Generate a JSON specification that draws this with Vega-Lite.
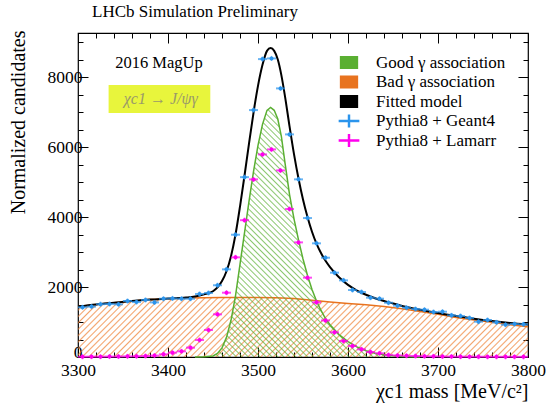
{
 "$schema": "https://vega.github.io/schema/vega-lite/v6.json",
 "width": 450, "height": 324,
 "autosize": "none",
 "padding": {"left": 78, "top": 33, "right": 20, "bottom": 49},
 "background": "white",
 "title": {"text": "LHCb Simulation Preliminary", "anchor": "start", "frame": "group", "dx": 14, "offset": 9, "font": "Liberation Serif, Times New Roman, serif", "fontSize": 17, "fontWeight": "normal", "color": "black"},
 "datasets": {
  "bad": [{"mass":3300,"value":1440},{"mass":3320,"value":1500},{"mass":3340,"value":1550},{"mass":3360,"value":1600},{"mass":3380,"value":1640},{"mass":3400,"value":1665},{"mass":3420,"value":1685},{"mass":3440,"value":1695},{"mass":3460,"value":1700},{"mass":3480,"value":1700},{"mass":3500,"value":1698},{"mass":3520,"value":1690},{"mass":3540,"value":1670},{"mass":3560,"value":1620},{"mass":3580,"value":1570},{"mass":3600,"value":1530},{"mass":3620,"value":1490},{"mass":3640,"value":1440},{"mass":3660,"value":1380},{"mass":3680,"value":1300},{"mass":3700,"value":1220},{"mass":3720,"value":1130},{"mass":3740,"value":1060},{"mass":3760,"value":990},{"mass":3780,"value":925},{"mass":3800,"value":867}],
  "good": [{"mass":3430,"value":0},{"mass":3440,"value":5},{"mass":3450,"value":30},{"mass":3455,"value":100},{"mass":3460,"value":260},{"mass":3465,"value":560},{"mass":3470,"value":1050},{"mass":3475,"value":1750},{"mass":3480,"value":2650},{"mass":3485,"value":3550},{"mass":3490,"value":4450},{"mass":3495,"value":5300},{"mass":3500,"value":6050},{"mass":3505,"value":6650},{"mass":3510,"value":7050},{"mass":3514,"value":7130},{"mass":3518,"value":7050},{"mass":3522,"value":6800},{"mass":3526,"value":6300},{"mass":3530,"value":5550},{"mass":3535,"value":4650},{"mass":3540,"value":3950},{"mass":3545,"value":3350},{"mass":3550,"value":2800},{"mass":3555,"value":2330},{"mass":3560,"value":1930},{"mass":3565,"value":1600},{"mass":3570,"value":1330},{"mass":3575,"value":1100},{"mass":3580,"value":920},{"mass":3590,"value":640},{"mass":3600,"value":440},{"mass":3610,"value":290},{"mass":3620,"value":180},{"mass":3630,"value":110},{"mass":3640,"value":65},{"mass":3650,"value":35},{"mass":3660,"value":15},{"mass":3670,"value":5},{"mass":3680,"value":0}],
  "model": [{"mass":3300,"value":1440},{"mass":3320,"value":1500},{"mass":3340,"value":1550},{"mass":3360,"value":1600},{"mass":3380,"value":1640},{"mass":3400,"value":1670},{"mass":3420,"value":1700},{"mass":3430,"value":1730},{"mass":3440,"value":1790},{"mass":3450,"value":1880},{"mass":3455,"value":1990},{"mass":3460,"value":2170},{"mass":3465,"value":2450},{"mass":3470,"value":2880},{"mass":3475,"value":3500},{"mass":3480,"value":4300},{"mass":3485,"value":5180},{"mass":3490,"value":6100},{"mass":3495,"value":6980},{"mass":3500,"value":7750},{"mass":3505,"value":8350},{"mass":3510,"value":8750},{"mass":3514,"value":8830},{"mass":3518,"value":8750},{"mass":3522,"value":8500},{"mass":3526,"value":8050},{"mass":3530,"value":7450},{"mass":3535,"value":6600},{"mass":3540,"value":5800},{"mass":3545,"value":5100},{"mass":3550,"value":4500},{"mass":3555,"value":4000},{"mass":3560,"value":3580},{"mass":3565,"value":3240},{"mass":3570,"value":2970},{"mass":3575,"value":2750},{"mass":3580,"value":2570},{"mass":3590,"value":2280},{"mass":3600,"value":2060},{"mass":3610,"value":1900},{"mass":3620,"value":1780},{"mass":3630,"value":1680},{"mass":3640,"value":1600},{"mass":3650,"value":1530},{"mass":3660,"value":1460},{"mass":3670,"value":1400},{"mass":3680,"value":1350},{"mass":3690,"value":1300},{"mass":3700,"value":1255},{"mass":3720,"value":1170},{"mass":3740,"value":1095},{"mass":3760,"value":1030},{"mass":3780,"value":975},{"mass":3800,"value":930}],
  "geant": [{"mass":3305,"value":1420},{"mass":3315,"value":1440},{"mass":3325,"value":1510},{"mass":3335,"value":1515},{"mass":3345,"value":1505},{"mass":3355,"value":1600},{"mass":3365,"value":1570},{"mass":3375,"value":1630},{"mass":3385,"value":1560},{"mass":3395,"value":1665},{"mass":3405,"value":1675},{"mass":3415,"value":1665},{"mass":3425,"value":1665},{"mass":3435,"value":1800},{"mass":3445,"value":1830},{"mass":3455,"value":2050},{"mass":3465,"value":2505},{"mass":3475,"value":3495},{"mass":3485,"value":5140},{"mass":3495,"value":7057},{"mass":3505,"value":8514},{"mass":3515,"value":8534},{"mass":3525,"value":7677},{"mass":3535,"value":6362},{"mass":3545,"value":5077},{"mass":3555,"value":3971},{"mass":3565,"value":3248},{"mass":3575,"value":2838},{"mass":3585,"value":2410},{"mass":3595,"value":2190},{"mass":3605,"value":1914},{"mass":3615,"value":1857},{"mass":3625,"value":1695},{"mass":3635,"value":1667},{"mass":3645,"value":1552},{"mass":3655,"value":1467},{"mass":3665,"value":1410},{"mass":3675,"value":1371},{"mass":3685,"value":1352},{"mass":3695,"value":1286},{"mass":3705,"value":1295},{"mass":3715,"value":1190},{"mass":3725,"value":1171},{"mass":3735,"value":1114},{"mass":3745,"value":1010},{"mass":3755,"value":1057},{"mass":3765,"value":990},{"mass":3775,"value":924},{"mass":3785,"value":943},{"mass":3795,"value":933}],
  "lamarr": [{"mass":3305,"value":8},{"mass":3315,"value":10},{"mass":3325,"value":10},{"mass":3335,"value":12},{"mass":3345,"value":15},{"mass":3355,"value":18},{"mass":3365,"value":22},{"mass":3375,"value":28},{"mass":3385,"value":40},{"mass":3395,"value":76},{"mass":3405,"value":124},{"mass":3415,"value":162},{"mass":3425,"value":267},{"mass":3435,"value":486},{"mass":3445,"value":771},{"mass":3455,"value":1219},{"mass":3465,"value":1838},{"mass":3475,"value":2848},{"mass":3485,"value":3910},{"mass":3495,"value":5076},{"mass":3505,"value":5790},{"mass":3515,"value":5933},{"mass":3525,"value":5333},{"mass":3535,"value":4229},{"mass":3545,"value":3276},{"mass":3555,"value":2267},{"mass":3565,"value":1562},{"mass":3575,"value":1045},{"mass":3585,"value":705},{"mass":3595,"value":457},{"mass":3605,"value":314},{"mass":3615,"value":219},{"mass":3625,"value":143},{"mass":3635,"value":105},{"mass":3645,"value":60},{"mass":3655,"value":45},{"mass":3665,"value":35},{"mass":3675,"value":28},{"mass":3685,"value":22},{"mass":3695,"value":18},{"mass":3705,"value":15},{"mass":3715,"value":12},{"mass":3725,"value":10},{"mass":3735,"value":9},{"mass":3745,"value":8},{"mass":3755,"value":7},{"mass":3765,"value":6},{"mass":3775,"value":6},{"mass":3785,"value":5},{"mass":3795,"value":5}]
 },
 "resolve": {"scale": {"x": "shared", "y": "shared", "color": "shared"}, "axis": {"x": "independent", "y": "independent"}},
 "layer": [
  {"data": {"name": "bad"},
   "mark": {"type": "area", "line": {"color": "#e8731f", "strokeWidth": 1.5},
    "fill": {"gradient": "linear", "x1": 0, "y1": 0, "x2": 1.1127, "y2": 0.1471, "stops": [
{"offset":0,"color":"#ee7d2e"},{"offset":0.003,"color":"rgba(238,125,46,0)"},{"offset":0.0095,"color":"rgba(238,125,46,0)"},{"offset":0.0125,"color":"#ee7d2e"},{"offset":0.0155,"color":"rgba(238,125,46,0)"},{"offset":0.022,"color":"rgba(238,125,46,0)"},
{"offset":0.025,"color":"#ee7d2e"},{"offset":0.028,"color":"rgba(238,125,46,0)"},{"offset":0.0345,"color":"rgba(238,125,46,0)"},{"offset":0.0375,"color":"#ee7d2e"},{"offset":0.0405,"color":"rgba(238,125,46,0)"},{"offset":0.047,"color":"rgba(238,125,46,0)"},
{"offset":0.05,"color":"#ee7d2e"},{"offset":0.053,"color":"rgba(238,125,46,0)"},{"offset":0.0595,"color":"rgba(238,125,46,0)"},{"offset":0.0625,"color":"#ee7d2e"},{"offset":0.0655,"color":"rgba(238,125,46,0)"},{"offset":0.072,"color":"rgba(238,125,46,0)"},
{"offset":0.075,"color":"#ee7d2e"},{"offset":0.078,"color":"rgba(238,125,46,0)"},{"offset":0.0845,"color":"rgba(238,125,46,0)"},{"offset":0.0875,"color":"#ee7d2e"},{"offset":0.0905,"color":"rgba(238,125,46,0)"},{"offset":0.097,"color":"rgba(238,125,46,0)"},
{"offset":0.1,"color":"#ee7d2e"},{"offset":0.103,"color":"rgba(238,125,46,0)"},{"offset":0.1095,"color":"rgba(238,125,46,0)"},{"offset":0.1125,"color":"#ee7d2e"},{"offset":0.1155,"color":"rgba(238,125,46,0)"},{"offset":0.122,"color":"rgba(238,125,46,0)"},
{"offset":0.125,"color":"#ee7d2e"},{"offset":0.128,"color":"rgba(238,125,46,0)"},{"offset":0.1345,"color":"rgba(238,125,46,0)"},{"offset":0.1375,"color":"#ee7d2e"},{"offset":0.1405,"color":"rgba(238,125,46,0)"},{"offset":0.147,"color":"rgba(238,125,46,0)"},
{"offset":0.15,"color":"#ee7d2e"},{"offset":0.153,"color":"rgba(238,125,46,0)"},{"offset":0.1595,"color":"rgba(238,125,46,0)"},{"offset":0.1625,"color":"#ee7d2e"},{"offset":0.1655,"color":"rgba(238,125,46,0)"},{"offset":0.172,"color":"rgba(238,125,46,0)"},
{"offset":0.175,"color":"#ee7d2e"},{"offset":0.178,"color":"rgba(238,125,46,0)"},{"offset":0.1845,"color":"rgba(238,125,46,0)"},{"offset":0.1875,"color":"#ee7d2e"},{"offset":0.1905,"color":"rgba(238,125,46,0)"},{"offset":0.197,"color":"rgba(238,125,46,0)"},
{"offset":0.2,"color":"#ee7d2e"},{"offset":0.203,"color":"rgba(238,125,46,0)"},{"offset":0.2095,"color":"rgba(238,125,46,0)"},{"offset":0.2125,"color":"#ee7d2e"},{"offset":0.2155,"color":"rgba(238,125,46,0)"},{"offset":0.222,"color":"rgba(238,125,46,0)"},
{"offset":0.225,"color":"#ee7d2e"},{"offset":0.228,"color":"rgba(238,125,46,0)"},{"offset":0.2345,"color":"rgba(238,125,46,0)"},{"offset":0.2375,"color":"#ee7d2e"},{"offset":0.2405,"color":"rgba(238,125,46,0)"},{"offset":0.247,"color":"rgba(238,125,46,0)"},
{"offset":0.25,"color":"#ee7d2e"},{"offset":0.253,"color":"rgba(238,125,46,0)"},{"offset":0.2595,"color":"rgba(238,125,46,0)"},{"offset":0.2625,"color":"#ee7d2e"},{"offset":0.2655,"color":"rgba(238,125,46,0)"},{"offset":0.272,"color":"rgba(238,125,46,0)"},
{"offset":0.275,"color":"#ee7d2e"},{"offset":0.278,"color":"rgba(238,125,46,0)"},{"offset":0.2845,"color":"rgba(238,125,46,0)"},{"offset":0.2875,"color":"#ee7d2e"},{"offset":0.2905,"color":"rgba(238,125,46,0)"},{"offset":0.297,"color":"rgba(238,125,46,0)"},
{"offset":0.3,"color":"#ee7d2e"},{"offset":0.303,"color":"rgba(238,125,46,0)"},{"offset":0.3095,"color":"rgba(238,125,46,0)"},{"offset":0.3125,"color":"#ee7d2e"},{"offset":0.3155,"color":"rgba(238,125,46,0)"},{"offset":0.322,"color":"rgba(238,125,46,0)"},
{"offset":0.325,"color":"#ee7d2e"},{"offset":0.328,"color":"rgba(238,125,46,0)"},{"offset":0.3345,"color":"rgba(238,125,46,0)"},{"offset":0.3375,"color":"#ee7d2e"},{"offset":0.3405,"color":"rgba(238,125,46,0)"},{"offset":0.347,"color":"rgba(238,125,46,0)"},
{"offset":0.35,"color":"#ee7d2e"},{"offset":0.353,"color":"rgba(238,125,46,0)"},{"offset":0.3595,"color":"rgba(238,125,46,0)"},{"offset":0.3625,"color":"#ee7d2e"},{"offset":0.3655,"color":"rgba(238,125,46,0)"},{"offset":0.372,"color":"rgba(238,125,46,0)"},
{"offset":0.375,"color":"#ee7d2e"},{"offset":0.378,"color":"rgba(238,125,46,0)"},{"offset":0.3845,"color":"rgba(238,125,46,0)"},{"offset":0.3875,"color":"#ee7d2e"},{"offset":0.3905,"color":"rgba(238,125,46,0)"},{"offset":0.397,"color":"rgba(238,125,46,0)"},
{"offset":0.4,"color":"#ee7d2e"},{"offset":0.403,"color":"rgba(238,125,46,0)"},{"offset":0.4095,"color":"rgba(238,125,46,0)"},{"offset":0.4125,"color":"#ee7d2e"},{"offset":0.4155,"color":"rgba(238,125,46,0)"},{"offset":0.422,"color":"rgba(238,125,46,0)"},
{"offset":0.425,"color":"#ee7d2e"},{"offset":0.428,"color":"rgba(238,125,46,0)"},{"offset":0.4345,"color":"rgba(238,125,46,0)"},{"offset":0.4375,"color":"#ee7d2e"},{"offset":0.4405,"color":"rgba(238,125,46,0)"},{"offset":0.447,"color":"rgba(238,125,46,0)"},
{"offset":0.45,"color":"#ee7d2e"},{"offset":0.453,"color":"rgba(238,125,46,0)"},{"offset":0.4595,"color":"rgba(238,125,46,0)"},{"offset":0.4625,"color":"#ee7d2e"},{"offset":0.4655,"color":"rgba(238,125,46,0)"},{"offset":0.472,"color":"rgba(238,125,46,0)"},
{"offset":0.475,"color":"#ee7d2e"},{"offset":0.478,"color":"rgba(238,125,46,0)"},{"offset":0.4845,"color":"rgba(238,125,46,0)"},{"offset":0.4875,"color":"#ee7d2e"},{"offset":0.4905,"color":"rgba(238,125,46,0)"},{"offset":0.497,"color":"rgba(238,125,46,0)"},
{"offset":0.5,"color":"#ee7d2e"},{"offset":0.503,"color":"rgba(238,125,46,0)"},{"offset":0.5095,"color":"rgba(238,125,46,0)"},{"offset":0.5125,"color":"#ee7d2e"},{"offset":0.5155,"color":"rgba(238,125,46,0)"},{"offset":0.522,"color":"rgba(238,125,46,0)"},
{"offset":0.525,"color":"#ee7d2e"},{"offset":0.528,"color":"rgba(238,125,46,0)"},{"offset":0.5345,"color":"rgba(238,125,46,0)"},{"offset":0.5375,"color":"#ee7d2e"},{"offset":0.5405,"color":"rgba(238,125,46,0)"},{"offset":0.547,"color":"rgba(238,125,46,0)"},
{"offset":0.55,"color":"#ee7d2e"},{"offset":0.553,"color":"rgba(238,125,46,0)"},{"offset":0.5595,"color":"rgba(238,125,46,0)"},{"offset":0.5625,"color":"#ee7d2e"},{"offset":0.5655,"color":"rgba(238,125,46,0)"},{"offset":0.572,"color":"rgba(238,125,46,0)"},
{"offset":0.575,"color":"#ee7d2e"},{"offset":0.578,"color":"rgba(238,125,46,0)"},{"offset":0.5845,"color":"rgba(238,125,46,0)"},{"offset":0.5875,"color":"#ee7d2e"},{"offset":0.5905,"color":"rgba(238,125,46,0)"},{"offset":0.597,"color":"rgba(238,125,46,0)"},
{"offset":0.6,"color":"#ee7d2e"},{"offset":0.603,"color":"rgba(238,125,46,0)"},{"offset":0.6095,"color":"rgba(238,125,46,0)"},{"offset":0.6125,"color":"#ee7d2e"},{"offset":0.6155,"color":"rgba(238,125,46,0)"},{"offset":0.622,"color":"rgba(238,125,46,0)"},
{"offset":0.625,"color":"#ee7d2e"},{"offset":0.628,"color":"rgba(238,125,46,0)"},{"offset":0.6345,"color":"rgba(238,125,46,0)"},{"offset":0.6375,"color":"#ee7d2e"},{"offset":0.6405,"color":"rgba(238,125,46,0)"},{"offset":0.647,"color":"rgba(238,125,46,0)"},
{"offset":0.65,"color":"#ee7d2e"},{"offset":0.653,"color":"rgba(238,125,46,0)"},{"offset":0.6595,"color":"rgba(238,125,46,0)"},{"offset":0.6625,"color":"#ee7d2e"},{"offset":0.6655,"color":"rgba(238,125,46,0)"},{"offset":0.672,"color":"rgba(238,125,46,0)"},
{"offset":0.675,"color":"#ee7d2e"},{"offset":0.678,"color":"rgba(238,125,46,0)"},{"offset":0.6845,"color":"rgba(238,125,46,0)"},{"offset":0.6875,"color":"#ee7d2e"},{"offset":0.6905,"color":"rgba(238,125,46,0)"},{"offset":0.697,"color":"rgba(238,125,46,0)"},
{"offset":0.7,"color":"#ee7d2e"},{"offset":0.703,"color":"rgba(238,125,46,0)"},{"offset":0.7095,"color":"rgba(238,125,46,0)"},{"offset":0.7125,"color":"#ee7d2e"},{"offset":0.7155,"color":"rgba(238,125,46,0)"},{"offset":0.722,"color":"rgba(238,125,46,0)"},
{"offset":0.725,"color":"#ee7d2e"},{"offset":0.728,"color":"rgba(238,125,46,0)"},{"offset":0.7345,"color":"rgba(238,125,46,0)"},{"offset":0.7375,"color":"#ee7d2e"},{"offset":0.7405,"color":"rgba(238,125,46,0)"},{"offset":0.747,"color":"rgba(238,125,46,0)"},
{"offset":0.75,"color":"#ee7d2e"},{"offset":0.753,"color":"rgba(238,125,46,0)"},{"offset":0.7595,"color":"rgba(238,125,46,0)"},{"offset":0.7625,"color":"#ee7d2e"},{"offset":0.7655,"color":"rgba(238,125,46,0)"},{"offset":0.772,"color":"rgba(238,125,46,0)"},
{"offset":0.775,"color":"#ee7d2e"},{"offset":0.778,"color":"rgba(238,125,46,0)"},{"offset":0.7845,"color":"rgba(238,125,46,0)"},{"offset":0.7875,"color":"#ee7d2e"},{"offset":0.7905,"color":"rgba(238,125,46,0)"},{"offset":0.797,"color":"rgba(238,125,46,0)"},
{"offset":0.8,"color":"#ee7d2e"},{"offset":0.803,"color":"rgba(238,125,46,0)"},{"offset":0.8095,"color":"rgba(238,125,46,0)"},{"offset":0.8125,"color":"#ee7d2e"},{"offset":0.8155,"color":"rgba(238,125,46,0)"},{"offset":0.822,"color":"rgba(238,125,46,0)"},
{"offset":0.825,"color":"#ee7d2e"},{"offset":0.828,"color":"rgba(238,125,46,0)"},{"offset":0.8345,"color":"rgba(238,125,46,0)"},{"offset":0.8375,"color":"#ee7d2e"},{"offset":0.8405,"color":"rgba(238,125,46,0)"},{"offset":0.847,"color":"rgba(238,125,46,0)"},
{"offset":0.85,"color":"#ee7d2e"},{"offset":0.853,"color":"rgba(238,125,46,0)"},{"offset":0.8595,"color":"rgba(238,125,46,0)"},{"offset":0.8625,"color":"#ee7d2e"},{"offset":0.8655,"color":"rgba(238,125,46,0)"},{"offset":0.872,"color":"rgba(238,125,46,0)"},
{"offset":0.875,"color":"#ee7d2e"},{"offset":0.878,"color":"rgba(238,125,46,0)"},{"offset":0.8845,"color":"rgba(238,125,46,0)"},{"offset":0.8875,"color":"#ee7d2e"},{"offset":0.8905,"color":"rgba(238,125,46,0)"},{"offset":0.897,"color":"rgba(238,125,46,0)"},
{"offset":0.9,"color":"#ee7d2e"},{"offset":0.903,"color":"rgba(238,125,46,0)"},{"offset":0.9095,"color":"rgba(238,125,46,0)"},{"offset":0.9125,"color":"#ee7d2e"},{"offset":0.9155,"color":"rgba(238,125,46,0)"},{"offset":0.922,"color":"rgba(238,125,46,0)"},
{"offset":0.925,"color":"#ee7d2e"},{"offset":0.928,"color":"rgba(238,125,46,0)"},{"offset":0.9345,"color":"rgba(238,125,46,0)"},{"offset":0.9375,"color":"#ee7d2e"},{"offset":0.9405,"color":"rgba(238,125,46,0)"},{"offset":0.947,"color":"rgba(238,125,46,0)"},
{"offset":0.95,"color":"#ee7d2e"},{"offset":0.953,"color":"rgba(238,125,46,0)"},{"offset":0.9595,"color":"rgba(238,125,46,0)"},{"offset":0.9625,"color":"#ee7d2e"},{"offset":0.9655,"color":"rgba(238,125,46,0)"},{"offset":0.972,"color":"rgba(238,125,46,0)"},
{"offset":0.975,"color":"#ee7d2e"},{"offset":0.978,"color":"rgba(238,125,46,0)"},{"offset":0.9845,"color":"rgba(238,125,46,0)"},{"offset":0.9875,"color":"#ee7d2e"},{"offset":0.9905,"color":"rgba(238,125,46,0)"},{"offset":0.997,"color":"rgba(238,125,46,0)"},
{"offset":1,"color":"#ee7d2e"}]}},
   "encoding": {
    "x": {"field": "mass", "type": "quantitative", "scale": {"domain": [3300, 3800], "nice": false, "zero": false},
     "axis": {"orient": "bottom", "values": [3300,3320,3340,3360,3380,3400,3420,3440,3460,3480,3500,3520,3540,3560,3580,3600,3620,3640,3660,3680,3700,3720,3740,3760,3780,3800], "format": "d",
      "tickSize": {"condition": {"test": "datum.value % 100 === 0", "value": -10}, "value": -5},
      "labelExpr": "datum.value % 100 === 0 ? datum.label : ''", "labelFlush": false, "labelOverlap": false, "labelPadding": 14,
      "title": "χc1 mass [MeV/c²]", "titleAnchor": "end", "titleX": 450, "titleY": 40, "titleAlign": "right", "titleBaseline": "alphabetic"}},
    "y": {"field": "value", "type": "quantitative", "scale": {"domain": [0, 9260], "nice": false, "zero": true},
     "axis": {"orient": "left", "values": [0,500,1000,1500,2000,2500,3000,3500,4000,4500,5000,5500,6000,6500,7000,7500,8000,8500,9000], "format": "d",
      "tickSize": {"condition": {"test": "datum.value % 2000 === 0", "value": -10}, "value": -5},
      "labelBaseline": {"condition": {"test": "datum.value === 0", "value": "alphabetic"}, "value": "middle"},
      "labelExpr": "datum.value % 2000 === 0 ? datum.label : ''", "labelOverlap": false, "labelFlush": false, "labelPadding": 6,
      "title": "Normalized candidates", "titleAnchor": "end", "titleX": -60, "titleY": -3, "titleAngle": -90, "titleAlign": "right", "titleBaseline": "middle"}},
    "color": {"datum": "Bad γ association", "type": "nominal",
     "scale": {"domain": ["Good γ association", "Bad γ association", "Fitted model", "Pythia8 + Geant4", "Pythia8 + Lamarr"], "range": ["#5aaf32", "#e8731f", "#000000", "#2b94ec", "#ff00ee"]},
     "legend": {"orient": "none", "legendX": 262.5, "legendY": 21, "title": null, "labelFont": "Liberation Serif, Times New Roman, serif", "labelFontSize": 17, "labelColor": "black", "symbolSize": 144, "labelOffset": 18.5, "rowPadding": 0.5, "labelLimit": 300, "symbolFillColor": "transparent",
      "encode": {"symbols": {"update": {
       "shape": {"signal": "(datum.value==='Pythia8 + Geant4' || datum.value==='Pythia8 + Lamarr') ? 'M-1.6,-0.08H-0.08V-0.95H0.08V-0.08H1.6V0.08H0.08V0.95H-0.08V0.08H-1.6Z' : 'M-1.4,-0.95H1.4V0.95H-1.4Z'"},
       "fill": {"signal": "datum.value==='Good γ association' ? 'rgba(90,175,50,0.28)' : datum.value==='Bad γ association' ? 'rgba(238,125,46,0.28)' : (datum.value==='Pythia8 + Geant4' || datum.value==='Pythia8 + Lamarr') ? scale('color', datum.value) : 'transparent'"},
       "stroke": {"signal": "scale('color', datum.value)"},
       "strokeWidth": {"value": 1.5},
       "opacity": {"value": 1}, "size": {"value": 144}}}}}}
   }},
  {"data": {"name": "good"},
   "mark": {"type": "area", "line": {"color": "#5aaf32", "strokeWidth": 1.5},
    "fill": {"gradient": "linear", "x1": 0, "y1": 1, "x2": 0.946, "y2": -0.049, "stops": [
{"offset":0,"color":"#5aaf32"},{"offset":0.003,"color":"rgba(90,175,50,0)"},{"offset":0.0095,"color":"rgba(90,175,50,0)"},{"offset":0.0125,"color":"#5aaf32"},{"offset":0.0155,"color":"rgba(90,175,50,0)"},{"offset":0.022,"color":"rgba(90,175,50,0)"},
{"offset":0.025,"color":"#5aaf32"},{"offset":0.028,"color":"rgba(90,175,50,0)"},{"offset":0.0345,"color":"rgba(90,175,50,0)"},{"offset":0.0375,"color":"#5aaf32"},{"offset":0.0405,"color":"rgba(90,175,50,0)"},{"offset":0.047,"color":"rgba(90,175,50,0)"},
{"offset":0.05,"color":"#5aaf32"},{"offset":0.053,"color":"rgba(90,175,50,0)"},{"offset":0.0595,"color":"rgba(90,175,50,0)"},{"offset":0.0625,"color":"#5aaf32"},{"offset":0.0655,"color":"rgba(90,175,50,0)"},{"offset":0.072,"color":"rgba(90,175,50,0)"},
{"offset":0.075,"color":"#5aaf32"},{"offset":0.078,"color":"rgba(90,175,50,0)"},{"offset":0.0845,"color":"rgba(90,175,50,0)"},{"offset":0.0875,"color":"#5aaf32"},{"offset":0.0905,"color":"rgba(90,175,50,0)"},{"offset":0.097,"color":"rgba(90,175,50,0)"},
{"offset":0.1,"color":"#5aaf32"},{"offset":0.103,"color":"rgba(90,175,50,0)"},{"offset":0.1095,"color":"rgba(90,175,50,0)"},{"offset":0.1125,"color":"#5aaf32"},{"offset":0.1155,"color":"rgba(90,175,50,0)"},{"offset":0.122,"color":"rgba(90,175,50,0)"},
{"offset":0.125,"color":"#5aaf32"},{"offset":0.128,"color":"rgba(90,175,50,0)"},{"offset":0.1345,"color":"rgba(90,175,50,0)"},{"offset":0.1375,"color":"#5aaf32"},{"offset":0.1405,"color":"rgba(90,175,50,0)"},{"offset":0.147,"color":"rgba(90,175,50,0)"},
{"offset":0.15,"color":"#5aaf32"},{"offset":0.153,"color":"rgba(90,175,50,0)"},{"offset":0.1595,"color":"rgba(90,175,50,0)"},{"offset":0.1625,"color":"#5aaf32"},{"offset":0.1655,"color":"rgba(90,175,50,0)"},{"offset":0.172,"color":"rgba(90,175,50,0)"},
{"offset":0.175,"color":"#5aaf32"},{"offset":0.178,"color":"rgba(90,175,50,0)"},{"offset":0.1845,"color":"rgba(90,175,50,0)"},{"offset":0.1875,"color":"#5aaf32"},{"offset":0.1905,"color":"rgba(90,175,50,0)"},{"offset":0.197,"color":"rgba(90,175,50,0)"},
{"offset":0.2,"color":"#5aaf32"},{"offset":0.203,"color":"rgba(90,175,50,0)"},{"offset":0.2095,"color":"rgba(90,175,50,0)"},{"offset":0.2125,"color":"#5aaf32"},{"offset":0.2155,"color":"rgba(90,175,50,0)"},{"offset":0.222,"color":"rgba(90,175,50,0)"},
{"offset":0.225,"color":"#5aaf32"},{"offset":0.228,"color":"rgba(90,175,50,0)"},{"offset":0.2345,"color":"rgba(90,175,50,0)"},{"offset":0.2375,"color":"#5aaf32"},{"offset":0.2405,"color":"rgba(90,175,50,0)"},{"offset":0.247,"color":"rgba(90,175,50,0)"},
{"offset":0.25,"color":"#5aaf32"},{"offset":0.253,"color":"rgba(90,175,50,0)"},{"offset":0.2595,"color":"rgba(90,175,50,0)"},{"offset":0.2625,"color":"#5aaf32"},{"offset":0.2655,"color":"rgba(90,175,50,0)"},{"offset":0.272,"color":"rgba(90,175,50,0)"},
{"offset":0.275,"color":"#5aaf32"},{"offset":0.278,"color":"rgba(90,175,50,0)"},{"offset":0.2845,"color":"rgba(90,175,50,0)"},{"offset":0.2875,"color":"#5aaf32"},{"offset":0.2905,"color":"rgba(90,175,50,0)"},{"offset":0.297,"color":"rgba(90,175,50,0)"},
{"offset":0.3,"color":"#5aaf32"},{"offset":0.303,"color":"rgba(90,175,50,0)"},{"offset":0.3095,"color":"rgba(90,175,50,0)"},{"offset":0.3125,"color":"#5aaf32"},{"offset":0.3155,"color":"rgba(90,175,50,0)"},{"offset":0.322,"color":"rgba(90,175,50,0)"},
{"offset":0.325,"color":"#5aaf32"},{"offset":0.328,"color":"rgba(90,175,50,0)"},{"offset":0.3345,"color":"rgba(90,175,50,0)"},{"offset":0.3375,"color":"#5aaf32"},{"offset":0.3405,"color":"rgba(90,175,50,0)"},{"offset":0.347,"color":"rgba(90,175,50,0)"},
{"offset":0.35,"color":"#5aaf32"},{"offset":0.353,"color":"rgba(90,175,50,0)"},{"offset":0.3595,"color":"rgba(90,175,50,0)"},{"offset":0.3625,"color":"#5aaf32"},{"offset":0.3655,"color":"rgba(90,175,50,0)"},{"offset":0.372,"color":"rgba(90,175,50,0)"},
{"offset":0.375,"color":"#5aaf32"},{"offset":0.378,"color":"rgba(90,175,50,0)"},{"offset":0.3845,"color":"rgba(90,175,50,0)"},{"offset":0.3875,"color":"#5aaf32"},{"offset":0.3905,"color":"rgba(90,175,50,0)"},{"offset":0.397,"color":"rgba(90,175,50,0)"},
{"offset":0.4,"color":"#5aaf32"},{"offset":0.403,"color":"rgba(90,175,50,0)"},{"offset":0.4095,"color":"rgba(90,175,50,0)"},{"offset":0.4125,"color":"#5aaf32"},{"offset":0.4155,"color":"rgba(90,175,50,0)"},{"offset":0.422,"color":"rgba(90,175,50,0)"},
{"offset":0.425,"color":"#5aaf32"},{"offset":0.428,"color":"rgba(90,175,50,0)"},{"offset":0.4345,"color":"rgba(90,175,50,0)"},{"offset":0.4375,"color":"#5aaf32"},{"offset":0.4405,"color":"rgba(90,175,50,0)"},{"offset":0.447,"color":"rgba(90,175,50,0)"},
{"offset":0.45,"color":"#5aaf32"},{"offset":0.453,"color":"rgba(90,175,50,0)"},{"offset":0.4595,"color":"rgba(90,175,50,0)"},{"offset":0.4625,"color":"#5aaf32"},{"offset":0.4655,"color":"rgba(90,175,50,0)"},{"offset":0.472,"color":"rgba(90,175,50,0)"},
{"offset":0.475,"color":"#5aaf32"},{"offset":0.478,"color":"rgba(90,175,50,0)"},{"offset":0.4845,"color":"rgba(90,175,50,0)"},{"offset":0.4875,"color":"#5aaf32"},{"offset":0.4905,"color":"rgba(90,175,50,0)"},{"offset":0.497,"color":"rgba(90,175,50,0)"},
{"offset":0.5,"color":"#5aaf32"},{"offset":0.503,"color":"rgba(90,175,50,0)"},{"offset":0.5095,"color":"rgba(90,175,50,0)"},{"offset":0.5125,"color":"#5aaf32"},{"offset":0.5155,"color":"rgba(90,175,50,0)"},{"offset":0.522,"color":"rgba(90,175,50,0)"},
{"offset":0.525,"color":"#5aaf32"},{"offset":0.528,"color":"rgba(90,175,50,0)"},{"offset":0.5345,"color":"rgba(90,175,50,0)"},{"offset":0.5375,"color":"#5aaf32"},{"offset":0.5405,"color":"rgba(90,175,50,0)"},{"offset":0.547,"color":"rgba(90,175,50,0)"},
{"offset":0.55,"color":"#5aaf32"},{"offset":0.553,"color":"rgba(90,175,50,0)"},{"offset":0.5595,"color":"rgba(90,175,50,0)"},{"offset":0.5625,"color":"#5aaf32"},{"offset":0.5655,"color":"rgba(90,175,50,0)"},{"offset":0.572,"color":"rgba(90,175,50,0)"},
{"offset":0.575,"color":"#5aaf32"},{"offset":0.578,"color":"rgba(90,175,50,0)"},{"offset":0.5845,"color":"rgba(90,175,50,0)"},{"offset":0.5875,"color":"#5aaf32"},{"offset":0.5905,"color":"rgba(90,175,50,0)"},{"offset":0.597,"color":"rgba(90,175,50,0)"},
{"offset":0.6,"color":"#5aaf32"},{"offset":0.603,"color":"rgba(90,175,50,0)"},{"offset":0.6095,"color":"rgba(90,175,50,0)"},{"offset":0.6125,"color":"#5aaf32"},{"offset":0.6155,"color":"rgba(90,175,50,0)"},{"offset":0.622,"color":"rgba(90,175,50,0)"},
{"offset":0.625,"color":"#5aaf32"},{"offset":0.628,"color":"rgba(90,175,50,0)"},{"offset":0.6345,"color":"rgba(90,175,50,0)"},{"offset":0.6375,"color":"#5aaf32"},{"offset":0.6405,"color":"rgba(90,175,50,0)"},{"offset":0.647,"color":"rgba(90,175,50,0)"},
{"offset":0.65,"color":"#5aaf32"},{"offset":0.653,"color":"rgba(90,175,50,0)"},{"offset":0.6595,"color":"rgba(90,175,50,0)"},{"offset":0.6625,"color":"#5aaf32"},{"offset":0.6655,"color":"rgba(90,175,50,0)"},{"offset":0.672,"color":"rgba(90,175,50,0)"},
{"offset":0.675,"color":"#5aaf32"},{"offset":0.678,"color":"rgba(90,175,50,0)"},{"offset":0.6845,"color":"rgba(90,175,50,0)"},{"offset":0.6875,"color":"#5aaf32"},{"offset":0.6905,"color":"rgba(90,175,50,0)"},{"offset":0.697,"color":"rgba(90,175,50,0)"},
{"offset":0.7,"color":"#5aaf32"},{"offset":0.703,"color":"rgba(90,175,50,0)"},{"offset":0.7095,"color":"rgba(90,175,50,0)"},{"offset":0.7125,"color":"#5aaf32"},{"offset":0.7155,"color":"rgba(90,175,50,0)"},{"offset":0.722,"color":"rgba(90,175,50,0)"},
{"offset":0.725,"color":"#5aaf32"},{"offset":0.728,"color":"rgba(90,175,50,0)"},{"offset":0.7345,"color":"rgba(90,175,50,0)"},{"offset":0.7375,"color":"#5aaf32"},{"offset":0.7405,"color":"rgba(90,175,50,0)"},{"offset":0.747,"color":"rgba(90,175,50,0)"},
{"offset":0.75,"color":"#5aaf32"},{"offset":0.753,"color":"rgba(90,175,50,0)"},{"offset":0.7595,"color":"rgba(90,175,50,0)"},{"offset":0.7625,"color":"#5aaf32"},{"offset":0.7655,"color":"rgba(90,175,50,0)"},{"offset":0.772,"color":"rgba(90,175,50,0)"},
{"offset":0.775,"color":"#5aaf32"},{"offset":0.778,"color":"rgba(90,175,50,0)"},{"offset":0.7845,"color":"rgba(90,175,50,0)"},{"offset":0.7875,"color":"#5aaf32"},{"offset":0.7905,"color":"rgba(90,175,50,0)"},{"offset":0.797,"color":"rgba(90,175,50,0)"},
{"offset":0.8,"color":"#5aaf32"},{"offset":0.803,"color":"rgba(90,175,50,0)"},{"offset":0.8095,"color":"rgba(90,175,50,0)"},{"offset":0.8125,"color":"#5aaf32"},{"offset":0.8155,"color":"rgba(90,175,50,0)"},{"offset":0.822,"color":"rgba(90,175,50,0)"},
{"offset":0.825,"color":"#5aaf32"},{"offset":0.828,"color":"rgba(90,175,50,0)"},{"offset":0.8345,"color":"rgba(90,175,50,0)"},{"offset":0.8375,"color":"#5aaf32"},{"offset":0.8405,"color":"rgba(90,175,50,0)"},{"offset":0.847,"color":"rgba(90,175,50,0)"},
{"offset":0.85,"color":"#5aaf32"},{"offset":0.853,"color":"rgba(90,175,50,0)"},{"offset":0.8595,"color":"rgba(90,175,50,0)"},{"offset":0.8625,"color":"#5aaf32"},{"offset":0.8655,"color":"rgba(90,175,50,0)"},{"offset":0.872,"color":"rgba(90,175,50,0)"},
{"offset":0.875,"color":"#5aaf32"},{"offset":0.878,"color":"rgba(90,175,50,0)"},{"offset":0.8845,"color":"rgba(90,175,50,0)"},{"offset":0.8875,"color":"#5aaf32"},{"offset":0.8905,"color":"rgba(90,175,50,0)"},{"offset":0.897,"color":"rgba(90,175,50,0)"},
{"offset":0.9,"color":"#5aaf32"},{"offset":0.903,"color":"rgba(90,175,50,0)"},{"offset":0.9095,"color":"rgba(90,175,50,0)"},{"offset":0.9125,"color":"#5aaf32"},{"offset":0.9155,"color":"rgba(90,175,50,0)"},{"offset":0.922,"color":"rgba(90,175,50,0)"},
{"offset":0.925,"color":"#5aaf32"},{"offset":0.928,"color":"rgba(90,175,50,0)"},{"offset":0.9345,"color":"rgba(90,175,50,0)"},{"offset":0.9375,"color":"#5aaf32"},{"offset":0.9405,"color":"rgba(90,175,50,0)"},{"offset":0.947,"color":"rgba(90,175,50,0)"},
{"offset":0.95,"color":"#5aaf32"},{"offset":0.953,"color":"rgba(90,175,50,0)"},{"offset":0.9595,"color":"rgba(90,175,50,0)"},{"offset":0.9625,"color":"#5aaf32"},{"offset":0.9655,"color":"rgba(90,175,50,0)"},{"offset":0.972,"color":"rgba(90,175,50,0)"},
{"offset":0.975,"color":"#5aaf32"},{"offset":0.978,"color":"rgba(90,175,50,0)"},{"offset":0.9845,"color":"rgba(90,175,50,0)"},{"offset":0.9875,"color":"#5aaf32"},{"offset":0.9905,"color":"rgba(90,175,50,0)"},{"offset":0.997,"color":"rgba(90,175,50,0)"},
{"offset":1,"color":"#5aaf32"}]}},
   "encoding": {
    "x": {"field": "mass", "type": "quantitative", "axis": null},
    "y": {"field": "value", "type": "quantitative", "axis": null},
    "color": {"datum": "Good γ association", "type": "nominal"}}},
  {"data": {"name": "model"},
   "mark": {"type": "line", "strokeWidth": 2, "interpolate": "monotone"},
   "encoding": {
    "x": {"field": "mass", "type": "quantitative",
     "axis": {"orient": "top", "values": [3300,3320,3340,3360,3380,3400,3420,3440,3460,3480,3500,3520,3540,3560,3580,3600,3620,3640,3660,3680,3700,3720,3740,3760,3780,3800], "labels": false, "title": null,
      "tickSize": {"condition": {"test": "datum.value % 100 === 0", "value": -10}, "value": -5}}},
    "y": {"field": "value", "type": "quantitative",
     "axis": {"orient": "right", "values": [0,500,1000,1500,2000,2500,3000,3500,4000,4500,5000,5500,6000,6500,7000,7500,8000,8500,9000], "labels": false, "title": null,
      "tickSize": {"condition": {"test": "datum.value % 2000 === 0", "value": -10}, "value": -5}}},
    "color": {"datum": "Fitted model", "type": "nominal"}}},
  {"data": {"name": "geant"},
   "mark": {"type": "tick", "orient": "horizontal", "size": 9, "thickness": 2},
   "encoding": {"x": {"field": "mass", "type": "quantitative", "axis": null}, "y": {"field": "value", "type": "quantitative", "axis": null}, "color": {"datum": "Pythia8 + Geant4", "type": "nominal"}}},
  {"data": {"name": "geant"},
   "mark": {"type": "tick", "orient": "vertical", "size": 5, "thickness": 1.5},
   "encoding": {"x": {"field": "mass", "type": "quantitative", "axis": null}, "y": {"field": "value", "type": "quantitative", "axis": null}, "color": {"datum": "Pythia8 + Geant4", "type": "nominal"}}},
  {"data": {"name": "geant"},
   "mark": {"type": "point", "filled": true, "size": 16, "opacity": 1},
   "encoding": {"x": {"field": "mass", "type": "quantitative", "axis": null}, "y": {"field": "value", "type": "quantitative", "axis": null}, "color": {"datum": "Pythia8 + Geant4", "type": "nominal"}}},
  {"data": {"name": "lamarr"},
   "mark": {"type": "tick", "orient": "horizontal", "size": 9, "thickness": 2},
   "encoding": {"x": {"field": "mass", "type": "quantitative", "axis": null}, "y": {"field": "value", "type": "quantitative", "axis": null}, "color": {"datum": "Pythia8 + Lamarr", "type": "nominal"}}},
  {"data": {"name": "lamarr"},
   "mark": {"type": "tick", "orient": "vertical", "size": 5, "thickness": 1.5},
   "encoding": {"x": {"field": "mass", "type": "quantitative", "axis": null}, "y": {"field": "value", "type": "quantitative", "axis": null}, "color": {"datum": "Pythia8 + Lamarr", "type": "nominal"}}},
  {"data": {"name": "lamarr"},
   "mark": {"type": "point", "filled": true, "size": 16, "opacity": 1},
   "encoding": {"x": {"field": "mass", "type": "quantitative", "axis": null}, "y": {"field": "value", "type": "quantitative", "axis": null}, "color": {"datum": "Pythia8 + Lamarr", "type": "nominal"}}},
  {"data": {"values": [{}]},
   "mark": {"type": "rect", "fill": "#e8f53c"},
   "encoding": {"x": {"datum": 3334, "type": "quantitative", "axis": null}, "x2": {"datum": 3447}, "y": {"datum": 7771, "type": "quantitative", "axis": null}, "y2": {"datum": 6971}}},
  {"data": {"values": [{}]},
   "mark": {"type": "text", "text": "χc1 → J/ψγ", "font": "Liberation Serif, Times New Roman, serif", "fontStyle": "italic", "fontSize": 16, "color": "#9a9a6a"},
   "encoding": {"x": {"datum": 3392, "type": "quantitative", "axis": null}, "y": {"datum": 7371, "type": "quantitative", "axis": null}}},
  {"data": {"values": [{}]},
   "mark": {"type": "text", "text": "2016 MagUp", "font": "Liberation Serif, Times New Roman, serif", "fontSize": 16.5, "color": "black"},
   "encoding": {"x": {"datum": 3390, "type": "quantitative", "axis": null}, "y": {"datum": 8400, "type": "quantitative", "axis": null}}}
 ],
 "config": {
  "view": {"stroke": "black", "strokeWidth": 1.2},
  "axis": {"domain": false, "grid": false, "tickColor": "black", "tickWidth": 1, "labelFont": "Liberation Serif, Times New Roman, serif", "labelFontSize": 17.5, "labelColor": "black", "titleFont": "Liberation Serif, Times New Roman, serif", "titleFontWeight": "normal", "titleColor": "black", "titleFontSize": 20}
 }
}
